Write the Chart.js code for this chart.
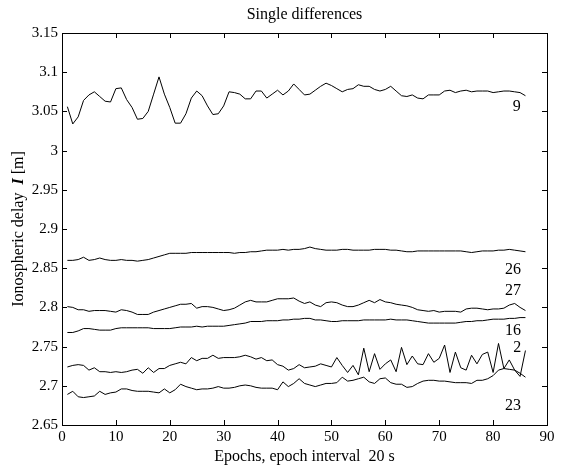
<!DOCTYPE html>
<html>
<head>
<meta charset="utf-8">
<script src="https://cdn.jsdelivr.net/npm/chart.js@4.4.1/dist/chart.umd.min.js"></script>
<style>
  html, body { margin: 0; padding: 0; background: #fff; }
</style>
</head>
<body>
<canvas id="chart" width="572" height="467"></canvas>
<script>
// epochs (x axis), one value per 20 s epoch
const epochs = [1,2,3,4,5,6,7,8,9,10,11,12,13,14,15,16,17,18,19,20,21,22,23,24,25,26,27,28,29,30,
  31,32,33,34,35,36,37,38,39,40,41,42,43,44,45,46,47,48,49,50,51,52,53,54,55,56,57,58,59,60,
  61,62,63,64,65,66,67,68,69,70,71,72,73,74,75,76,77,78,79,80,81,82,83,84,85,86];

// single differences per satellite (PRN), metres
const sat9 = [3.056,3.034,3.043,3.064,3.071,3.075,3.069,3.063,3.062,3.079,3.080,3.065,3.055,3.040,3.041,
  3.050,3.072,3.094,3.072,3.055,3.035,3.035,3.047,3.067,3.076,3.070,3.057,3.046,3.047,3.057,
  3.075,3.074,3.072,3.066,3.066,3.076,3.076,3.067,3.072,3.077,3.071,3.076,3.085,3.078,3.071,
  3.072,3.077,3.082,3.086,3.083,3.079,3.075,3.078,3.079,3.084,3.082,3.082,3.078,3.076,3.078,
  3.082,3.076,3.070,3.069,3.071,3.067,3.066,3.071,3.071,3.071,3.076,3.077,3.074,3.076,3.077,
  3.075,3.076,3.076,3.076,3.074,3.075,3.076,3.076,3.075,3.074,3.070];
const sat26 = [2.860,2.860,2.861,2.864,2.860,2.861,2.863,2.861,2.860,2.860,2.861,2.860,2.860,2.859,2.860,
  2.861,2.863,2.865,2.867,2.869,2.869,2.869,2.869,2.870,2.870,2.870,2.870,2.870,2.870,2.870,
  2.870,2.869,2.870,2.870,2.871,2.871,2.872,2.873,2.873,2.873,2.874,2.873,2.874,2.874,2.875,
  2.877,2.875,2.874,2.873,2.873,2.873,2.874,2.874,2.873,2.873,2.873,2.873,2.874,2.874,2.874,
  2.873,2.873,2.872,2.871,2.871,2.872,2.872,2.872,2.872,2.872,2.872,2.872,2.872,2.872,2.871,
  2.870,2.871,2.872,2.872,2.872,2.873,2.873,2.874,2.873,2.872,2.871];
const sat27 = [2.801,2.800,2.797,2.797,2.795,2.796,2.796,2.796,2.795,2.794,2.797,2.796,2.794,2.791,2.791,
  2.791,2.794,2.796,2.798,2.800,2.802,2.804,2.804,2.805,2.799,2.801,2.801,2.800,2.798,2.796,
  2.797,2.799,2.803,2.807,2.809,2.807,2.807,2.807,2.809,2.811,2.811,2.811,2.812,2.808,2.805,
  2.807,2.803,2.801,2.806,2.807,2.806,2.803,2.801,2.801,2.803,2.806,2.809,2.806,2.810,2.807,
  2.806,2.804,2.803,2.802,2.800,2.797,2.796,2.795,2.796,2.794,2.795,2.795,2.795,2.794,2.798,
  2.799,2.799,2.798,2.797,2.798,2.798,2.799,2.803,2.805,2.800,2.796];
const sat16 = [2.768,2.768,2.770,2.773,2.773,2.772,2.771,2.771,2.771,2.773,2.774,2.774,2.774,2.774,2.774,
  2.774,2.773,2.773,2.773,2.773,2.774,2.775,2.775,2.775,2.776,2.775,2.776,2.776,2.776,2.776,
  2.777,2.778,2.779,2.780,2.782,2.782,2.782,2.783,2.783,2.783,2.784,2.784,2.785,2.785,2.786,
  2.786,2.784,2.784,2.783,2.782,2.782,2.783,2.783,2.783,2.783,2.784,2.784,2.784,2.784,2.784,
  2.785,2.784,2.784,2.784,2.783,2.782,2.781,2.780,2.780,2.780,2.780,2.780,2.780,2.781,2.782,
  2.782,2.783,2.783,2.784,2.785,2.785,2.785,2.786,2.786,2.787,2.787];
const sat2 = [2.724,2.726,2.727,2.726,2.720,2.723,2.718,2.718,2.717,2.718,2.717,2.718,2.720,2.721,2.716,
  2.723,2.717,2.722,2.722,2.726,2.728,2.730,2.728,2.736,2.732,2.735,2.735,2.739,2.735,2.736,
  2.736,2.736,2.737,2.739,2.737,2.734,2.736,2.732,2.733,2.727,2.725,2.720,2.722,2.727,2.723,
  2.724,2.725,2.728,2.726,2.724,2.736,2.726,2.717,2.726,2.714,2.748,2.718,2.741,2.721,2.728,
  2.733,2.718,2.749,2.727,2.738,2.728,2.727,2.741,2.730,2.735,2.752,2.717,2.743,2.723,2.720,
  2.739,2.728,2.740,2.743,2.717,2.754,2.722,2.733,2.720,2.712,2.745];
const sat23 = [2.689,2.693,2.686,2.685,2.686,2.687,2.693,2.689,2.691,2.692,2.696,2.696,2.694,2.693,2.693,
  2.693,2.692,2.691,2.696,2.691,2.695,2.702,2.699,2.697,2.695,2.696,2.696,2.697,2.699,2.697,
  2.697,2.698,2.700,2.701,2.700,2.698,2.697,2.697,2.697,2.695,2.705,2.699,2.703,2.709,2.703,
  2.701,2.699,2.701,2.703,2.703,2.704,2.711,2.706,2.707,2.709,2.711,2.705,2.703,2.709,2.710,
  2.704,2.702,2.702,2.698,2.699,2.703,2.706,2.707,2.707,2.706,2.706,2.705,2.704,2.704,2.704,
  2.703,2.707,2.707,2.709,2.713,2.720,2.722,2.721,2.720,2.716,2.711];

// curve labels (satellite numbers) and where they sit, in data units
const labelNames = ['9', '26', '27', '16', '2', '23'];
const labelX = [84.4, 83.7, 83.7, 83.7, 84.5, 83.7];
const labelY = [3.056, 2.848, 2.821, 2.770, 2.748, 2.675];

const xTicks = [0, 10, 20, 30, 40, 50, 60, 70, 80, 90];
const yTicks = [2.65, 2.7, 2.75, 2.8, 2.85, 2.9, 2.95, 3, 3.05, 3.1, 3.15];

const SERIF = "'Liberation Serif', 'Times New Roman', serif";
const series = [sat9, sat26, sat27, sat16, sat2, sat23];

const datasets = series.map(vals => ({
  data: epochs.map((e, i) => ({ x: e, y: vals[i] })),
  borderColor: '#000',
  borderWidth: 1,
  pointRadius: 0,
  tension: 0,
  fill: false
}));

// matlab-ish box with inward ticks, title over the axes, curve labels, y title with italic I
const decorations = {
  id: 'decorations',
  afterDraw(chart) {
    const { ctx, chartArea: a, scales: { x, y } } = chart;
    ctx.save();
    ctx.strokeStyle = '#000';
    ctx.lineWidth = 1;
    ctx.strokeRect(Math.round(a.left) + 0.5, Math.round(a.top) + 0.5,
      Math.round(a.right - a.left), Math.round(a.bottom - a.top));
    const tl = 5;
    ctx.beginPath();
    xTicks.forEach(v => {
      const px = Math.round(x.getPixelForValue(v)) + 0.5;
      ctx.moveTo(px, a.bottom); ctx.lineTo(px, a.bottom - tl);
      ctx.moveTo(px, a.top); ctx.lineTo(px, a.top + tl);
    });
    yTicks.forEach(v => {
      const py = Math.round(y.getPixelForValue(v)) + 0.5;
      ctx.moveTo(a.left, py); ctx.lineTo(a.left + tl, py);
      ctx.moveTo(a.right, py); ctx.lineTo(a.right - tl, py);
    });
    ctx.stroke();

    ctx.fillStyle = '#000';
    ctx.textAlign = 'center';
    ctx.textBaseline = 'middle';
    ctx.font = '16px ' + SERIF;
    ctx.fillText('Single differences', (a.left + a.right) / 2, 15);

    labelNames.forEach((t, i) => {
      ctx.fillText(t, x.getPixelForValue(labelX[i]), y.getPixelForValue(labelY[i]));
    });

    // y axis title
    const cy = (a.top + a.bottom) / 2;
    ctx.translate(19, cy);
    ctx.rotate(-Math.PI / 2);
    const parts = [
      ['Ionospheric delay  ', '16px ' + SERIF],
      ['I', 'italic bold 16px ' + SERIF],
      [' [m]', '16px ' + SERIF]
    ];
    let w = 0;
    parts.forEach(p => { ctx.font = p[1]; w += ctx.measureText(p[0]).width; });
    let cx = -w / 2;
    ctx.textAlign = 'left';
    parts.forEach(p => {
      ctx.font = p[1];
      ctx.fillText(p[0], cx, 0);
      cx += ctx.measureText(p[0]).width;
    });
    ctx.restore();
  }
};

new Chart(document.getElementById('chart'), {
  type: 'line',
  data: { datasets },
  options: {
    responsive: false,
    animation: false,
    events: [],
    layout: { padding: { top: 33, right: 25, bottom: 1, left: 0 } },
    plugins: {
      legend: { display: false },
      tooltip: { enabled: false },
      title: { display: false }
    },
    scales: {
      x: {
        type: 'linear',
        min: 0, max: 90,
        grid: { display: false, drawTicks: false },
        border: { display: false },
        ticks: {
          stepSize: 10, color: '#000', padding: 3, maxRotation: 0,
          font: { family: SERIF, size: 15 }
        },
        title: {
          display: true,
          text: 'Epochs, epoch interval  20 s',
          color: '#000',
          font: { family: SERIF, size: 16 },
          padding: 0
        },
        afterFit(s) { s.height = 41; }
      },
      y: {
        min: 2.65, max: 3.15,
        grid: { display: false, drawTicks: false },
        border: { display: false },
        ticks: {
          stepSize: 0.05, color: '#000', padding: 4,
          font: { family: SERIF, size: 15 },
          callback: v => String(+v.toFixed(2))
        },
        afterFit(s) { s.width = 62; }
      }
    }
  },
  plugins: [decorations]
});
</script>
</body>
</html>
